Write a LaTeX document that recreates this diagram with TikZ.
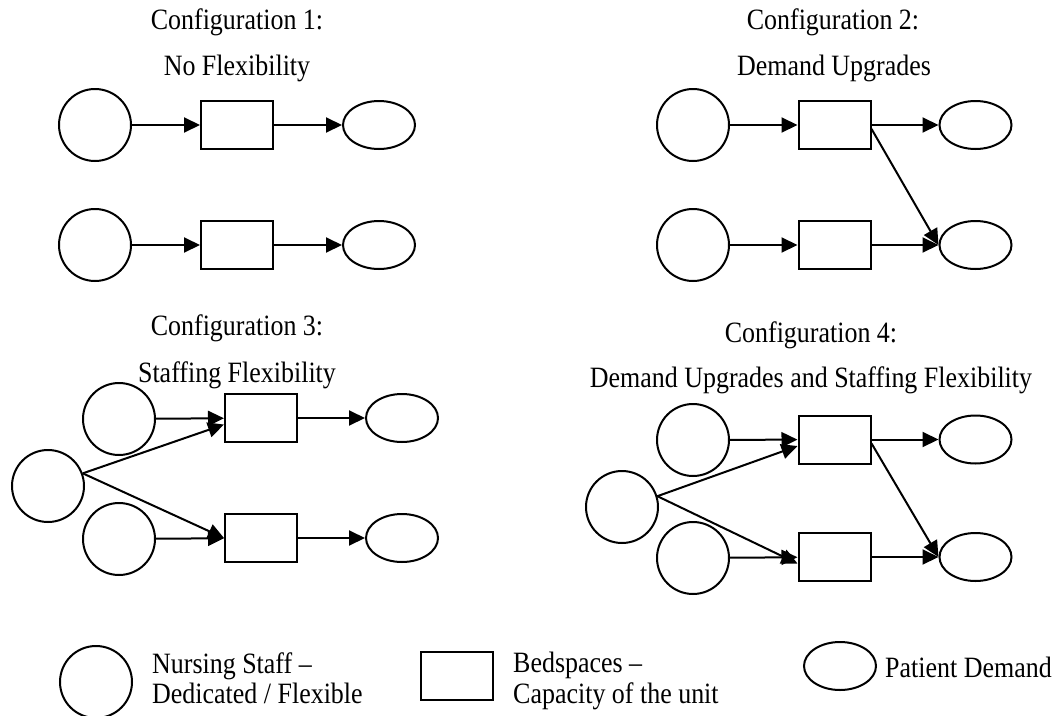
\documentclass[tikz,border=0pt]{standalone}
\usepackage{fontspec}
\setmainfont{Liberation Serif}[FakeStretch=0.88]
\usetikzlibrary{arrows.meta,shapes.geometric}
\begin{document}
\begin{tikzpicture}[x=1pt,y=-1pt,
  staff/.style={draw,line width=2pt,circle,minimum size=72pt,inner sep=0pt},
  bedbox/.style={draw,line width=2pt,rectangle,minimum width=72pt,minimum height=48pt,inner sep=0pt},
  demand/.style={draw,line width=2pt,ellipse,minimum width=72pt,minimum height=48pt,inner sep=0pt},
  flow/.style={line width=2pt,-{Triangle[length=16pt,width=15pt]}},
  title/.style={font=\fontsize{29.5}{35}\selectfont,inner sep=0pt,anchor=base},
  legtext/.style={font=\fontsize{29.5}{35}\selectfont,inner sep=0pt,anchor=base west}]
\useasboundingbox (0,0) rectangle (1063,715);

% ---------- Configuration 1 ----------
\node[title] (t1a) at (237,29) {Configuration 1:};
\node[title] (t1b) at (237,75) {No Flexibility};
\node[staff]  (c1a) at (95,125) {};
\node[bedbox] (r1a) at (237,125) {};
\node[demand] (e1a) at (379,125) {};
\node[staff]  (c1b) at (95,245) {};
\node[bedbox] (r1b) at (237,245) {};
\node[demand] (e1b) at (379,245) {};
\draw[flow] (c1a) -- (r1a);
\draw[flow] (r1a) -- (e1a);
\draw[flow] (c1b) -- (r1b);
\draw[flow] (r1b) -- (e1b);

% ---------- Configuration 2 ----------
\node[title] (t2a) at (833,29) {Configuration 2:};
\node[title] (t2b) at (834,75) {Demand Upgrades};
\node[staff]  (c2a) at (693,125) {};
\node[bedbox] (r2a) at (834.5,125) {};
\node[demand] (e2a) at (975.5,125) {};
\node[staff]  (c2b) at (693,245) {};
\node[bedbox] (r2b) at (834.5,245) {};
\node[demand] (e2b) at (975.5,245) {};
\draw[flow] (c2a) -- (r2a);
\draw[flow] (r2a) -- (e2a);
\draw[flow] (c2b) -- (r2b);
\draw[flow] (r2b) -- (e2b);
\draw[flow] (r2a.-6) -- (e2b.west);

% ---------- Configuration 3 ----------
\node[title] (t3a) at (237,335) {Configuration 3:};
\node[title] (t3b) at (237,382) {Staffing Flexibility};
\node[staff]  (c3a) at (119,419) {};
\node[staff]  (c3l) at (48,486) {};
\node[staff]  (c3b) at (119,539) {};
\node[bedbox] (r3a) at (261,418) {};
\node[bedbox] (r3b) at (261,538) {};
\node[demand] (e3a) at (402,418) {};
\node[demand] (e3b) at (402,538) {};
\draw[flow] (c3a) -- (r3a);
\draw[flow] (c3b) -- (r3b);
\draw[flow] (c3l.20) -- (r3a.190);
\draw[flow] (c3l.20) -- (r3b.west);
\draw[flow] (r3a) -- (e3a);
\draw[flow] (r3b) -- (e3b);

% ---------- Configuration 4 ----------
\node[title] (t4a) at (811,342) {Configuration 4:};
\node[title] (t4b) at (811,387) {Demand Upgrades and Staffing Flexibility};
\node[staff]  (c4a) at (693,440) {};
\node[staff]  (c4l) at (622,507) {};
\node[staff]  (c4b) at (693,558) {};
\node[bedbox] (r4a) at (834.5,439.5) {};
\node[bedbox] (r4b) at (834.5,557) {};
\node[demand] (e4a) at (975.5,439.5) {};
\node[demand] (e4b) at (975.5,557) {};
\draw[flow] (c4a) -- (r4a);
\draw[flow] (c4b) -- (r4b);
\draw[flow] (c4l.17) -- (r4a.190);
\draw[flow] (c4l.17) -- (r4b.190);
\draw[flow] (r4a) -- (e4a);
\draw[flow] (r4b) -- (e4b);
\draw[flow] (r4a.-6) -- (e4b.west);

% ---------- Legend ----------
\node[staff]  (lc) at (96,682) {};
\node[legtext] (lc1) at (152,673) {Nursing Staff –};
\node[legtext] (lc2) at (152,703) {Dedicated / Flexible};
\node[bedbox] (lr) at (456.5,676) {};
\node[legtext] (lr1) at (513,672) {Bedspaces –};
\node[legtext] (lr2) at (513,703) {Capacity of the unit};
\node[demand] (le) at (840,666) {};
\node[legtext] (le1) at (885,677) {Patient Demand};
\end{tikzpicture}
\end{document}
